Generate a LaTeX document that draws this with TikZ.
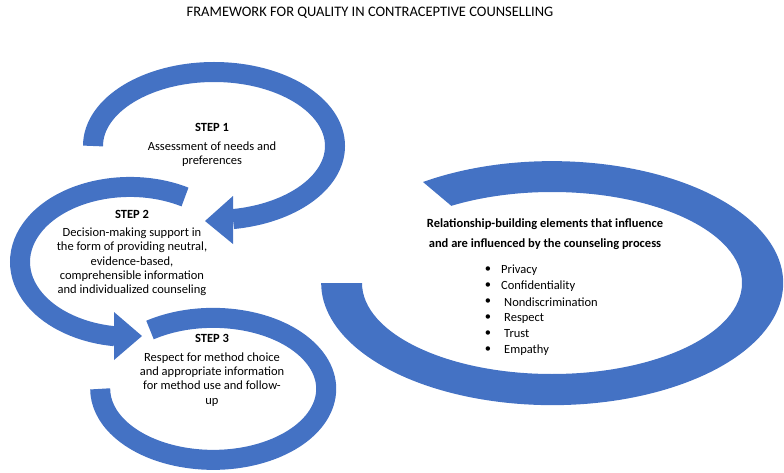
\documentclass[tikz,border=0pt]{standalone}
\usepackage{fontspec}
\setmainfont{Carlito}
\definecolor{ringblue}{HTML}{4472C4}
\begin{document}
\begin{tikzpicture}[x=1pt,y=1pt,
  ring/.style={draw=ringblue,line width=20pt,line cap=butt},
  head/.style={fill=ringblue,draw=none},
  steptitle/.style={font=\fontsize{12.5}{14}\selectfont\bfseries},
  body/.style={font=\fontsize{12.5}{14.3}\selectfont,align=center,inner sep=0pt}]
\useasboundingbox (0,0) rectangle (784,472);
% step arcs
\draw[ring] (93,326) arc[start angle=180,end angle=-81,x radius=121,y radius=74];
\fill[head] (233,276) -- (233,228) -- (205,251) -- cycle;
\draw[ring] (185,275) arc[start angle=60,end angle=262,x radius=110,y radius=75];
\fill[head] (114,160) -- (114,112) -- (142,136) -- cycle;
\draw[ring] (150,142) arc[start angle=124,end angle=-180,x radius=113,y radius=71];
% big ring
\fill[ringblue] (423,290) arc[start angle=124,end angle=-180,x radius=231,y radius=122]
  -- (362,189) arc[start angle=-180,end angle=122,x radius=190,y radius=91] -- cycle;
% title
\node[font=\fontsize{14.5}{16}\selectfont] (title) at (370,459) {FRAMEWORK FOR QUALITY IN CONTRACEPTIVE COUNSELLING};
% step texts
\node[steptitle] (s1) at (212,345) {STEP 1};
\node[body] (b1) at (212,318) {Assessment of needs and\\preferences};
\node[steptitle] (s2) at (132,258) {STEP 2};
\node[body] (b2) at (132,210) {Decision-making support in\\the form of providing neutral,\\evidence-based,\\comprehensible information\\and individualized counseling};
\node[steptitle] (s3) at (212,134) {STEP 3};
\node[body] (b3) at (212,92.5) {Respect for method choice\\and appropriate information\\for method use and follow-\\up};
% big text
\node[font=\fontsize{12.5}{20}\selectfont\bfseries,align=center] (rel) at (545,238) {Relationship-building elements that influence\\and are influenced by the counseling process};
\foreach \t/\y/\dx in {Privacy/270/0,Confidentiality/286/0,Nondiscrimination/302/3,Respect/318/3,Trust/334/3,Empathy/350/3}{
  \node[font=\fontsize{12.5}{14}\selectfont,inner sep=0pt] (b\t) at (488,472-\y) {•};
  \node[font=\fontsize{12.5}{14}\selectfont,anchor=west,inner sep=0pt] (t\t) at (501+\dx,472-\y) {\t};
}
\end{tikzpicture}
\end{document}
